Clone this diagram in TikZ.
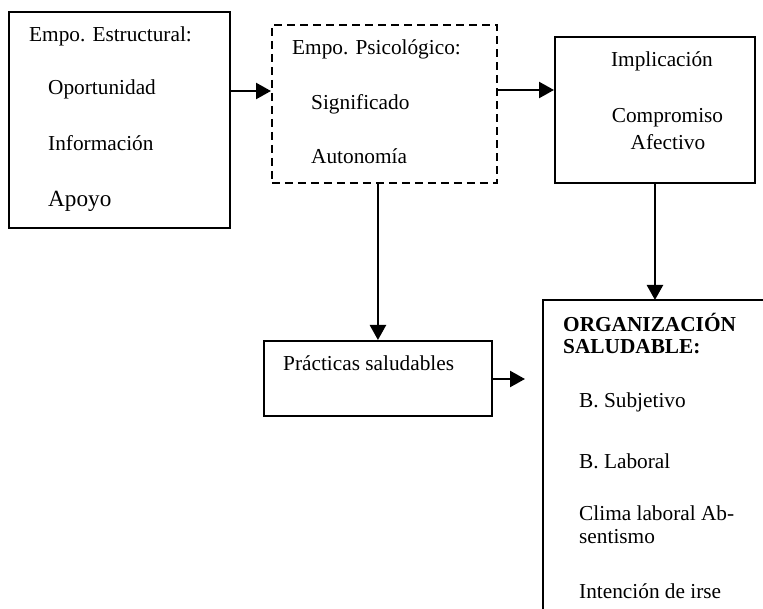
\documentclass[tikz,border=0pt]{standalone}
\usepackage{fontspec}
\setmainfont{Liberation Serif}
\usetikzlibrary{arrows.meta,calc}
\begin{document}
\begin{tikzpicture}[x=1pt,y=-1pt,
  boxline/.style={draw, line width=1.9pt, inner sep=0pt},
  dashbox/.style={draw, line width=1.9pt, inner sep=0pt, dash pattern=on 8pt off 5pt},
  lbl/.style={inner sep=0pt, anchor=base west, font=\fontsize{21.3}{25}\selectfont},
  clbl/.style={inner sep=0pt, anchor=base, font=\fontsize{21.3}{25}\selectfont},
  arr/.style={line width=2.4pt, -{Triangle[length=15pt,width=16pt]}},
  plain/.style={line width=1.9pt}]
\useasboundingbox (0,0) rectangle (763,609);
\clip (0,0) rectangle (763,609);
% boxes
\node[boxline, minimum width=221pt, minimum height=216pt, anchor=north west] (box1) at (8,11) {};
\node[dashbox, minimum width=225pt, minimum height=158pt, anchor=north west] (box2) at (271,24) {};
\node[boxline, minimum width=200pt, minimum height=146pt, anchor=north west] (box3) at (554,36) {};
\node[boxline, minimum width=228pt, minimum height=75pt, anchor=north west] (box4) at (263,340) {};
\node[inner sep=0pt, minimum width=240pt, minimum height=340pt, anchor=north west] (org) at (543,300) {};
\draw[plain] (org.south west) -- (org.north west) -- (org.north east);
% texts box1
\node[lbl] (t11) at (29,42) {Empo. Estructural:};
\node[lbl] (t12) at (48,95) {Oportunidad};
\node[lbl] (t13) at (48,151) {Información};
\node[lbl, font=\fontsize{23.2}{27}\selectfont] (t14) at (48,207) {Apoyo};
% texts box2
\node[lbl] (t21) at (292,55) {Empo. Psicológico:};
\node[lbl] (t22) at (311,110) {Significado};
\node[lbl] (t23) at (311,164) {Autonomía};
% texts box3
\node[clbl] (t31) at (662,67) {Implicación};
\node[clbl] (t32) at (667.5,123) {Compromiso};
\node[clbl] (t33) at (668,150) {Afectivo};
% text box4
\node[lbl] (t41) at (283,371) {Prácticas saludables};
% texts org
\node[lbl, font=\fontsize{21.3}{25}\bfseries\selectfont] (t51) at (563,332) {ORGANIZACIÓN};
\node[lbl, font=\fontsize{21.3}{25}\bfseries\selectfont] (t52) at (563,354) {SALUDABLE:};
\node[lbl] (t53) at (579,407) {B. Subjetivo};
\node[lbl] (t54) at (579,468) {B. Laboral};
\node[lbl] (t55) at (579,520) {Clima laboral Ab-};
\node[lbl] (t56) at (579,543) {sentismo};
\node[lbl] (t57) at (579,598) {Intención de irse};
% connectors
\coordinate (pend) at (525,379);
\draw[arr] ([yshift=-80pt]box1.north east) coordinate (s1) -- (s1 -| box2.west);
\draw[arr] ([yshift=-66pt]box2.north east) coordinate (s2) -- (s2 -| box3.west);
\draw[arr] (box4.north |- box2.south) -- (box4.north);
\draw[arr] (box3.south) -- (box3.south |- org.north);
\draw[arr] ([yshift=-39pt]box4.north east) coordinate (s4) -- (pend);
\end{tikzpicture}
\end{document}
